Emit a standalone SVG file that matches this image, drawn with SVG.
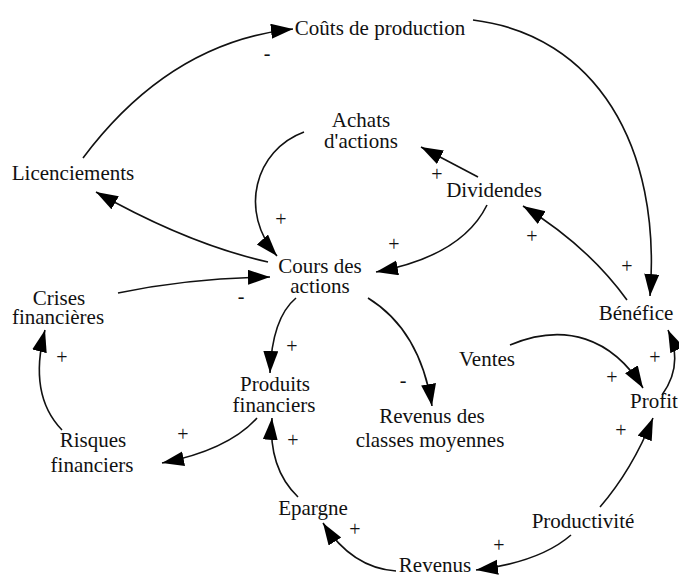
<svg xmlns="http://www.w3.org/2000/svg" width="679" height="576" viewBox="0 0 679 576">
  <style>
    .lbl { font-family: "Liberation Serif", "Times New Roman", serif; font-size: 21px; fill: #111; text-anchor: middle; }
    .sgn { font-family: "Liberation Serif", "Times New Roman", serif; font-size: 20px; fill: #111; text-anchor: middle; }
    .edge { fill: none; stroke: #111; stroke-width: 1.6; marker-end: url(#head); }
  </style>
  <defs>
    <marker id="head" markerUnits="userSpaceOnUse" markerWidth="24" markerHeight="16" refX="22" refY="7.5" orient="auto">
      <path d="M0,0 L22,7.5 L0,15 z" fill="#000"/>
    </marker>
  </defs>
  <rect width="679" height="576" fill="#fff"/>

  <!-- causal links -->
  <g id="connectors">
    <path class="edge" d="M83,158 Q170,42 293,29"/>
    <path class="edge" d="M473,20 C595,35 662,145 650,296"/>
    <path class="edge" d="M478,177 L421,147"/>
    <path class="edge" d="M304,132 C255,150 238,212 277,256"/>
    <path class="edge" d="M487,205 Q462,256 376,272"/>
    <path class="edge" d="M627,300 Q588,246 523,206"/>
    <path class="edge" d="M268,262 Q188,244 96,192"/>
    <path class="edge" d="M118,293 Q190,278 270,277"/>
    <path class="edge" d="M296,298 Q272,318 270,373"/>
    <path class="edge" d="M368,298 Q420,330 432,406"/>
    <path class="edge" d="M510,345 C565,322 612,338 643,388"/>
    <path class="edge" d="M662,395 Q684,365 668,330"/>
    <path class="edge" d="M600,507 Q632,470 653,418"/>
    <path class="edge" d="M571,535 Q540,562 476,570"/>
    <path class="edge" d="M396,571 Q352,568 323,523"/>
    <path class="edge" d="M298,497 Q268,468 272,418"/>
    <path class="edge" d="M257,418 Q228,450 162,463"/>
    <path class="edge" d="M62,430 Q28,395 45,330"/>
  </g>

  <!-- link polarities -->
  <g id="polarities">
    <text class="sgn" x="267" y="60">-</text>
    <text class="sgn" x="437" y="181">+</text>
    <text class="sgn" x="281" y="226">+</text>
    <text class="sgn" x="394" y="251">+</text>
    <text class="sgn" x="532" y="243">+</text>
    <text class="sgn" x="627" y="273">+</text>
    <text class="sgn" x="241" y="303">-</text>
    <text class="sgn" x="292" y="353">+</text>
    <text class="sgn" x="62" y="364">+</text>
    <text class="sgn" x="403" y="387">-</text>
    <text class="sgn" x="612" y="384">+</text>
    <text class="sgn" x="655" y="364">+</text>
    <text class="sgn" x="621" y="437">+</text>
    <text class="sgn" x="183" y="441">+</text>
    <text class="sgn" x="293" y="447">+</text>
    <text class="sgn" x="355" y="536">+</text>
    <text class="sgn" x="499" y="552">+</text>
  </g>

  <!-- variables -->
  <g id="couts"><text class="lbl" x="380" y="35">Coûts de production</text></g>
  <g id="achats"><text class="lbl" x="361" y="127">Achats</text><text class="lbl" x="361" y="148">d'actions</text></g>
  <g id="licenciements"><text class="lbl" x="73" y="180">Licenciements</text></g>
  <g id="dividendes"><text class="lbl" x="494" y="197">Dividendes</text></g>
  <g id="cours"><text class="lbl" x="320" y="273">Cours des</text><text class="lbl" x="320" y="293">actions</text></g>
  <g id="crises"><text class="lbl" x="59" y="305">Crises</text><text class="lbl" x="58" y="324">financières</text></g>
  <g id="benefice"><text class="lbl" x="636" y="320">Bénéfice</text></g>
  <g id="ventes"><text class="lbl" x="487" y="366">Ventes</text></g>
  <g id="profit"><text class="lbl" x="654" y="408">Profit</text></g>
  <g id="produits"><text class="lbl" x="275" y="391">Produits</text><text class="lbl" x="274" y="412">financiers</text></g>
  <g id="revenus-classes"><text class="lbl" x="432" y="423">Revenus des</text><text class="lbl" x="430" y="447">classes moyennes</text></g>
  <g id="risques"><text class="lbl" x="93" y="447">Risques</text><text class="lbl" x="92" y="472">financiers</text></g>
  <g id="epargne"><text class="lbl" x="313" y="515">Epargne</text></g>
  <g id="productivite"><text class="lbl" x="583" y="528">Productivité</text></g>
  <g id="revenus"><text class="lbl" x="435" y="572">Revenus</text></g>
</svg>
